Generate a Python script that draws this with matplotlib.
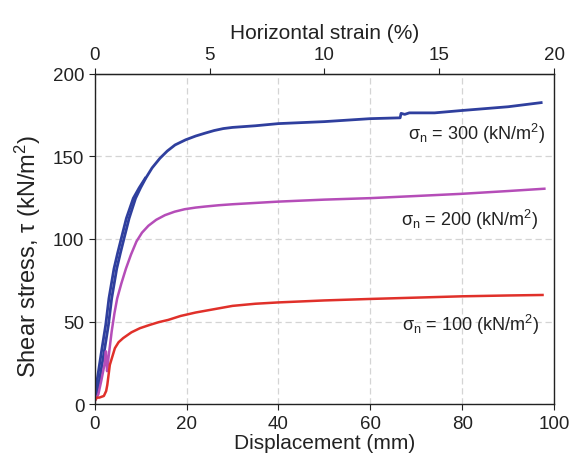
"""
Direct shear test: shear stress vs displacement at three normal stresses.
"""
import matplotlib
matplotlib.use("Agg")
import matplotlib.pyplot as plt

# ── data ──────────────────────────────────────────────────────────────────────
disp_300 = [0, 1, 2.2, 3, 3.7, 4.8, 5.6, 6.4, 7.5, 8.9, 10, 11.1, 12.5, 14.2, 15.8,
            17.5, 19.8, 22, 24, 26, 28, 30, 35, 40, 50, 60, 66.5, 66.7, 67.5, 68.5,
            74, 79.8, 90, 97.2]
tau_300 = [2, 14, 34, 48, 64, 82, 91.5, 100.4, 112.5, 124.6, 131, 136.7, 143, 148.8,
           153.2, 156.9, 160, 162.3, 164, 165.6, 166.8, 167.5, 168.5, 169.8, 171,
           172.8, 173.3, 176, 175.4, 176.3, 176.3, 177.7, 180, 182.5]

# second loading trace, visible as a thick band on the steep part
disp_300b = [0, 0.5, 1.6, 2.4, 3.1, 4.2, 5.0, 5.8, 6.9, 8.4, 9.7, 11.0]
tau_300b = [2, 14, 34, 48, 64, 82, 91.5, 100.4, 112.5, 124.6, 131, 136.7]

disp_200 = [0, 0.8, 1.5, 2.2, 2.45, 2.7, 3.0, 3.7, 4.3, 4.9, 5.8, 6.8, 7.9, 9.1,
            10.3, 11.7, 13.4, 15.3, 17.4, 19.6, 22, 24, 27, 30, 35, 40, 50, 60, 70,
            79.8, 90, 97.9]
tau_200 = [2, 6, 15, 25, 32, 20, 28, 44, 55, 64, 73, 82, 90.5, 98.5, 103.8, 108,
           111.6, 114.4, 116.5, 118, 119, 119.6, 120.4, 121, 121.8, 122.6, 123.8,
           124.7, 126, 127.3, 129, 130.4]

disp_100 = [0, 0.5, 1, 2, 2.5, 2.75, 3.3, 4.4, 5.2, 6.2, 8, 9.85, 12, 14, 16, 18.7,
            22, 25, 30, 35, 40, 50, 60, 70, 80, 90, 97.5]
tau_100 = [2, 4, 4, 5, 8, 11.7, 23.8, 33.9, 37.5, 40, 43.5, 46, 48, 49.7, 51, 53.4,
           55.5, 57, 59.5, 60.8, 61.6, 62.8, 63.7, 64.5, 65.3, 65.8, 66.1]

labels = ["300", "200", "100"]
label_pos = [(98, 164), (96.5, 112), (96.8, 48.5)]

BLUE = "#2f3f9e"
MAGENTA = "#b54db8"
RED = "#e0302a"
INK = "#222222"

plt.rcParams["font.family"] = ["Liberation Sans", "DejaVu Sans"]
plt.rcParams["mathtext.fontset"] = "custom"
plt.rcParams["mathtext.rm"] = "Liberation Sans"
plt.rcParams["mathtext.it"] = "Liberation Sans"

fig = plt.figure(figsize=(5.78, 4.60), dpi=100)
ax = fig.add_axes([0.1638, 0.1191, 0.7947, 0.7185])

ax.plot(disp_300b, tau_300b, color=BLUE, lw=2.0)
ax.plot(disp_300, tau_300, color=BLUE, lw=2.0)
ax.plot(disp_200, tau_200, color=MAGENTA, lw=1.8)
ax.plot(disp_100, tau_100, color=RED, lw=1.8)

for lab, (x, y) in zip(labels, label_pos):
    ax.text(x, y, "σ$_{\\rm n}$ = " + lab + " (kN/m$^{2}$)", ha="right", va="center",
            fontsize=13, color=INK)

ax.set_xlim(0, 100)
ax.set_ylim(0, 200)
ax.set_xticks([0, 20, 40, 60, 80, 100])
ax.set_yticks([0, 50, 100, 150, 200])
ax.grid(True, color="#d4d4d4", linestyle=(0, (5, 3)), linewidth=0.9)
ax.tick_params(labelsize=13.5, direction="out", length=4, colors=INK)
ax.set_xlabel("Displacement (mm)", fontsize=15, color=INK, labelpad=1)
ax.set_ylabel("Shear stress, τ (kN/m$^{2}$)", fontsize=17, color=INK)
ax.yaxis.set_label_coords(-0.113, 0.45)
for sp in ax.spines.values():
    sp.set_linewidth(1.0)
    sp.set_color(INK)

top = ax.secondary_xaxis("top", functions=(lambda d: d / 5.0, lambda s: s * 5.0))
top.set_xticks([0, 5, 10, 15, 20])
top.tick_params(labelsize=13.5, direction="out", length=4, colors=INK)
top.set_xlabel("Horizontal strain (%)", fontsize=15, color=INK, labelpad=6)

fig.savefig("out.png", dpi=100)
